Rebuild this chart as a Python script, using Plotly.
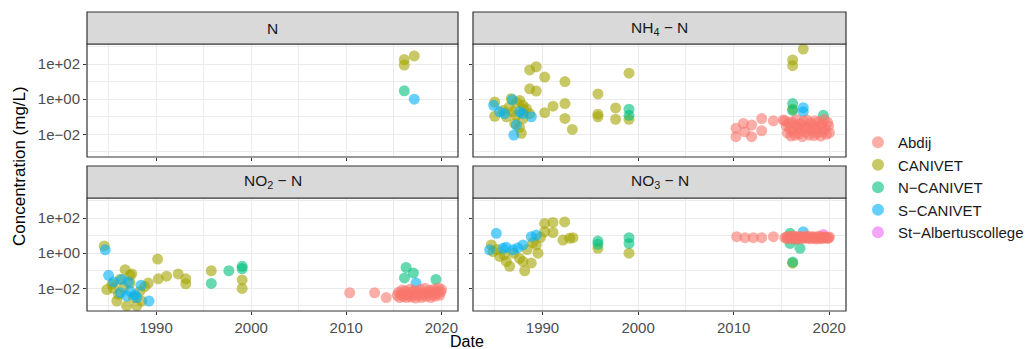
import plotly.graph_objects as go

# ---------------- data (decimal years, concentrations in mg/L) ----------------
sites = ["Abdij", "CANIVET", "N-CANIVET", "S-CANIVET", "St-Albertuscollege"]
site_labels = ["Abdij", "CANIVET", "N\u2212CANIVET", "S\u2212CANIVET", "St\u2212Albertuscollege"]
site_colors = ["#F8766D", "#A3A500", "#00BF7D", "#00B0F6", "#E76BF3"]

# N
n_canivet_year = [2016.1, 2017.15, 2016.1]
n_canivet_val = [180, 290, 88]
n_ncanivet_year = [2016.1]
n_ncanivet_val = [3.0]
n_scanivet_year = [2017.15]
n_scanivet_val = [1.0]

# NH4-N
nh4_canivet_year = [1988.66, 1989.35, 1990.23, 1992.35, 1988.66, 1989.35, 1995.8, 1999.05,
                    1991.1, 1992.35, 1990.23, 1992.35, 1993.12, 1995.8, 1995.8, 1997.65,
                    1997.65, 1999.05, 1985.0, 1985.0, 1985.87, 1986.74, 1986.9, 1987.61,
                    1987.96, 1988.31, 1987.26, 1987.96, 1987.09, 1987.79, 1988.66, 1986.22,
                    1987.3, 1986.5, 1988.0, 1987.6, 2017.28, 2016.17, 2016.17, 2016.17]
nh4_canivet_val = [46, 70, 18, 10, 3.9, 2.9, 2.0, 30,
                   0.40, 0.56, 0.17, 0.08, 0.019, 0.14, 0.10, 0.32,
                   0.071, 0.071, 0.69, 0.107, 0.23, 1.07, 0.19, 0.85,
                   0.45, 0.29, 0.12, 0.079, 0.042, 0.0115, 0.15, 0.10,
                   0.63, 0.35, 0.25, 0.025, 710, 170, 81, 0.27]
nh4_ncanivet_year = [1999.05, 1999.05, 2016.17, 2016.17, 2019.38]
nh4_ncanivet_val = [0.27, 0.12, 0.56, 0.23, 0.12]
nh4_scanivet_year = [1984.89, 1985.52, 1986.04, 1986.84, 1987.96, 1988.83, 1987.26, 1987.0,
                     1987.61, 2017.28, 2017.28]
nh4_scanivet_val = [0.45, 0.19, 0.15, 0.93, 0.15, 0.10, 0.034, 0.0091, 0.19, 0.33, 0.19]
nh4_abdij_year = [2010.24, 2010.24, 2011.01, 2011.18, 2011.88, 2011.88, 2012.93, 2012.93,
                  2014.15, 2015.19,
                  2015.35, 2015.5, 2015.62, 2015.75, 2015.88, 2016.0, 2016.1, 2016.21,
                  2016.33, 2016.46, 2016.58, 2016.7, 2016.83, 2016.95, 2017.05, 2017.17,
                  2017.3, 2017.42, 2017.55, 2017.67, 2017.8, 2017.92, 2018.04, 2018.15,
                  2018.27, 2018.4, 2018.52, 2018.63, 2018.75, 2018.87, 2019.0, 2019.1,
                  2019.22, 2019.35, 2019.46, 2019.58, 2019.7, 2019.82, 2019.93, 2020.02]
nh4_abdij_val = [0.022, 0.0074, 0.042, 0.014, 0.034, 0.0074, 0.079, 0.016, 0.059, 0.065,
                 0.06, 0.03, 0.012, 0.045, 0.02, 0.008, 0.05, 0.015, 0.035, 0.009,
                 0.07, 0.025, 0.011, 0.04, 0.018, 0.0075, 0.055, 0.028, 0.013, 0.065,
                 0.022, 0.009, 0.045, 0.016, 0.032, 0.0085, 0.06, 0.02, 0.012, 0.05,
                 0.026, 0.008, 0.038, 0.014, 0.07, 0.019, 0.01, 0.048, 0.03, 0.012]

# NO2-N
no2_canivet_year = [1984.54, 1986.74, 1987.44, 1990.16, 1990.23, 1991.1, 1992.32, 1993.12,
                    1993.12, 1995.8, 1999.05, 1999.05, 1984.82, 1985.87, 1986.9,
                    1987.96, 1986.04, 1987.26, 1986.57, 1987.61, 1988.31, 1989.18, 1988.48,
                    1985.35, 1987.26, 1985.5, 1986.2, 1988.8]
no2_canivet_val = [2.6, 0.115, 0.066, 0.46, 0.035, 0.049, 0.066, 0.035,
                   0.018, 0.10, 0.030, 0.0098, 0.0085, 0.0019, 0.001,
                   0.001, 0.0045, 0.020, 0.011, 0.003, 0.0069, 0.020, 0.0019,
                   0.017, 0.055, 0.01, 0.032, 0.0126]
no2_ncanivet_year = [1995.8, 1997.65, 1999.05, 1999.05, 2016.29, 2016.12, 2017.06, 2019.43]
no2_ncanivet_val = [0.019, 0.10, 0.18, 0.13, 0.155, 0.039, 0.074, 0.032]
no2_scanivet_year = [1984.65, 1985.0, 1985.52, 1986.39, 1987.09, 1986.22, 1986.9, 1987.79,
                     1987.96, 1988.41, 1989.25, 1987.26, 2017.34]
no2_scanivet_val = [1.55, 0.055, 0.023, 0.032, 0.023, 0.0056, 0.0036, 0.0042,
                    0.003, 0.015, 0.0019, 0.0069, 0.020]
no2_abdij_year = [2010.36, 2012.98, 2014.2,
                  2015.35, 2015.5, 2015.62, 2015.75, 2015.88, 2016.0, 2016.1, 2016.21,
                  2016.33, 2016.46, 2016.58, 2016.7, 2016.83, 2016.95, 2017.05, 2017.17,
                  2017.3, 2017.42, 2017.55, 2017.67, 2017.8, 2017.92, 2018.04, 2018.15,
                  2018.27, 2018.4, 2018.52, 2018.63, 2018.75, 2018.87, 2019.0, 2019.1,
                  2019.22, 2019.35, 2019.46, 2019.58, 2019.7, 2019.82, 2019.93, 2020.02]
no2_abdij_val = [0.0056, 0.0056, 0.003,
                 0.004, 0.006, 0.003, 0.005, 0.008, 0.0035, 0.0045, 0.007, 0.003, 0.0055,
                 0.004, 0.009, 0.0032, 0.006, 0.0042, 0.0075, 0.0028, 0.005, 0.0065, 0.0038,
                 0.0085, 0.003, 0.0055, 0.0045, 0.01, 0.0035, 0.006, 0.0048, 0.0078, 0.003,
                 0.0058, 0.0042, 0.009, 0.0036, 0.0068, 0.0052, 0.0105, 0.004, 0.0062, 0.0085]

# NO3-N
no3_canivet_year = [1984.65, 1984.82, 1985.52, 1986.22, 1986.57, 1987.96, 1988.14, 1988.83,
                    1989.53, 1989.35, 1990.23, 1991.1, 1992.32, 1990.23, 1991.1, 1992.14,
                    1993.19, 1992.84, 1995.8, 1999.05, 1985.2, 1986.0, 1987.0, 1987.6,
                    1988.4, 1989.0, 1989.8, 2016.17]
no3_canivet_val = [2.95, 1.23, 0.65, 0.34, 0.18, 0.34, 0.10, 0.275,
                   1.0, 2.95, 49, 56, 60, 16.6, 15, 5.6,
                   7.6, 7.1, 1.9, 1.0, 1.6, 0.8, 1.0, 0.5,
                   1.6, 4.0, 8.0, 0.27]
no3_ncanivet_year = [1995.8, 1995.8, 1999.05, 1999.05, 2016.17, 2015.9, 2016.94, 2015.9, 2016.5]
no3_ncanivet_val = [4.9, 3.2, 7.6, 3.6, 0.31, 3.6, 1.9, 13.5, 6.3]
no3_scanivet_year = [1985.17, 1984.47, 1985.87, 1987.96, 1988.83, 1989.35, 1986.91, 1986.2,
                     1987.4, 2017.28]
no3_scanivet_val = [13.5, 1.55, 1.9, 2.95, 8.7, 10.7, 1.55, 2.2, 2.0, 16.6]
no3_stalb_year = [2019.38]
no3_stalb_val = [11.7]
no3_abdij_year = [2010.31, 2011.18, 2012.05, 2012.93, 2014.15,
                  2015.35, 2015.5, 2015.62, 2015.75, 2015.88, 2016.0, 2016.1, 2016.21,
                  2016.33, 2016.46, 2016.58, 2016.7, 2016.83, 2016.95, 2017.05, 2017.17,
                  2017.3, 2017.42, 2017.55, 2017.67, 2017.8, 2017.92, 2018.04, 2018.15,
                  2018.27, 2018.4, 2018.52, 2018.63, 2018.75, 2018.87, 2019.0, 2019.1,
                  2019.22, 2019.35, 2019.46, 2019.58, 2019.7, 2019.82, 2019.93, 2020.02]
no3_abdij_val = [8.7, 7.6, 7.6, 7.6, 8.7,
                 7.5, 8.2, 6.8, 9.0, 7.2, 8.8, 6.5, 7.9, 9.5, 7.0, 8.4, 6.2, 7.7, 9.2,
                 7.3, 8.0, 6.9, 8.6, 7.4, 9.8, 7.1, 8.3, 6.6, 7.8, 8.9, 7.2, 8.1, 6.4,
                 7.6, 9.1, 7.0, 8.5, 6.7, 7.9, 8.7, 7.3, 8.0, 6.9, 7.5, 8.2]

panel_titles = ["N", "NH<sub>4</sub> \u2212 N", "NO<sub>2</sub> \u2212 N", "NO<sub>3</sub> \u2212 N"]
panel_data = [
    {"CANIVET": (n_canivet_year, n_canivet_val),
     "N-CANIVET": (n_ncanivet_year, n_ncanivet_val),
     "S-CANIVET": (n_scanivet_year, n_scanivet_val)},
    {"CANIVET": (nh4_canivet_year, nh4_canivet_val),
     "N-CANIVET": (nh4_ncanivet_year, nh4_ncanivet_val),
     "S-CANIVET": (nh4_scanivet_year, nh4_scanivet_val),
     "Abdij": (nh4_abdij_year, nh4_abdij_val)},
    {"CANIVET": (no2_canivet_year, no2_canivet_val),
     "N-CANIVET": (no2_ncanivet_year, no2_ncanivet_val),
     "S-CANIVET": (no2_scanivet_year, no2_scanivet_val),
     "Abdij": (no2_abdij_year, no2_abdij_val)},
    {"CANIVET": (no3_canivet_year, no3_canivet_val),
     "N-CANIVET": (no3_ncanivet_year, no3_ncanivet_val),
     "S-CANIVET": (no3_scanivet_year, no3_scanivet_val),
     "St-Albertuscollege": (no3_stalb_year, no3_stalb_val),
     "Abdij": (no3_abdij_year, no3_abdij_val)},
]

x_major = [1990, 2000, 2010, 2020]
x_minor = [1985, 1995, 2005, 2015]
y_major = [0.01, 1, 100]
y_major_text = ["1e\u221202", "1e+00", "1e+02"]
y_minor = [0.001, 0.1, 10, 1000]

# ---------------- layout geometry ----------------
W, H = 1029, 349
def px_x(p): return p / W
def px_y(p): return 1 - p / H

x_dom = [[px_x(87), px_x(458)], [px_x(473), px_x(846)]]
y_dom = [[px_y(157), px_y(44)], [px_y(311), px_y(198)]]
strip_dom = [[px_y(44), px_y(12)], [px_y(198), px_y(166)]]

fig = go.Figure()
draw_order = ["CANIVET", "N-CANIVET", "S-CANIVET", "St-Albertuscollege", "Abdij"]
color_of = dict(zip(sites, site_colors))
label_of = dict(zip(sites, site_labels))
shown = set()
FONT = "Liberation Sans, Arial, sans-serif"

for i in range(4):
    ax = "" if i == 0 else str(i + 1)
    for s in draw_order:
        if s not in panel_data[i]:
            continue
        xs, ys = panel_data[i][s]
        fig.add_trace(go.Scatter(
            x=xs, y=ys, mode="markers", name=label_of[s], legendgroup=s,
            legendrank=sites.index(s) + 1,
            showlegend=s not in shown,
            marker=dict(color=color_of[s], size=11, opacity=0.6, line=dict(width=0)),
            xaxis="x" + ax, yaxis="y" + ax))
        shown.add(s)

axis_common = dict(showline=False, zeroline=False, ticks="outside", ticklen=3,
                   tickcolor="#333333", tickwidth=1,
                   gridcolor="#EBEBEB", gridwidth=1,
                   tickfont=dict(family=FONT, size=15, color="#4D4D4D"))
layout = {}
for i in range(4):
    r, c = divmod(i, 2)
    ax = "" if i == 0 else str(i + 1)
    layout["xaxis" + ax] = dict(
        axis_common, domain=x_dom[c], anchor="y" + ax, range=[1982.73, 2021.75],
        tickmode="array", tickvals=x_major, ticktext=[str(v) for v in x_major],
        showticklabels=(r == 1),
        minor=dict(tickmode="array", tickvals=x_minor, showgrid=True,
                   gridcolor="#EBEBEB", gridwidth=0.6, ticks=""))
    layout["yaxis" + ax] = dict(
        axis_common, domain=y_dom[r], anchor="x" + ax, type="log", range=[-3.29, 3.14],
        tickmode="array", tickvals=y_major, ticktext=y_major_text,
        showticklabels=(c == 0),
        minor=dict(tickmode="array", tickvals=y_minor, showgrid=True,
                   gridcolor="#EBEBEB", gridwidth=0.6, ticks=""))

shapes = []
annotations = []
for i in range(4):
    r, c = divmod(i, 2)
    ax = "" if i == 0 else str(i + 1)
    shapes.append(dict(type="rect", xref="x" + ax + " domain", yref="y" + ax + " domain",
                       x0=0, x1=1, y0=0, y1=1, line=dict(color="#333333", width=1.2),
                       fillcolor="rgba(0,0,0,0)", layer="above"))
    shapes.append(dict(type="rect", xref="paper", yref="paper",
                       x0=x_dom[c][0], x1=x_dom[c][1], y0=strip_dom[r][0], y1=strip_dom[r][1],
                       line=dict(color="#333333", width=1.2), fillcolor="#D9D9D9"))
    annotations.append(dict(text=panel_titles[i], xref="paper", yref="paper",
                            x=(x_dom[c][0] + x_dom[c][1]) / 2,
                            y=(strip_dom[r][0] + strip_dom[r][1]) / 2,
                            showarrow=False, xanchor="center", yanchor="middle",
                            font=dict(family=FONT, size=15.5, color="#1A1A1A")))

annotations.append(dict(text="Concentration (mg/L)", xref="paper", yref="paper",
                        x=px_x(20), y=px_y(166), textangle=-90, showarrow=False,
                        xanchor="center", yanchor="middle",
                        font=dict(family=FONT, size=17, color="#000000")))
annotations.append(dict(text="Date", xref="paper", yref="paper",
                        x=px_x(467), y=px_y(341), showarrow=False,
                        xanchor="center", yanchor="middle",
                        font=dict(family=FONT, size=16, color="#000000")))

fig.update_layout(
    width=W, height=H, margin=dict(l=0, r=0, t=0, b=0, autoexpand=False),
    paper_bgcolor="white", plot_bgcolor="white",
    shapes=shapes, annotations=annotations,
    legend=dict(xref="container", yref="container",
                x=px_x(858), y=px_y(126), xanchor="left", yanchor="top",
                tracegroupgap=0,
                font=dict(family=FONT, size=15, color="#1A1A1A"),
                bgcolor="rgba(0,0,0,0)", itemsizing="constant"),
    **layout)

fig.write_html("out.html")
